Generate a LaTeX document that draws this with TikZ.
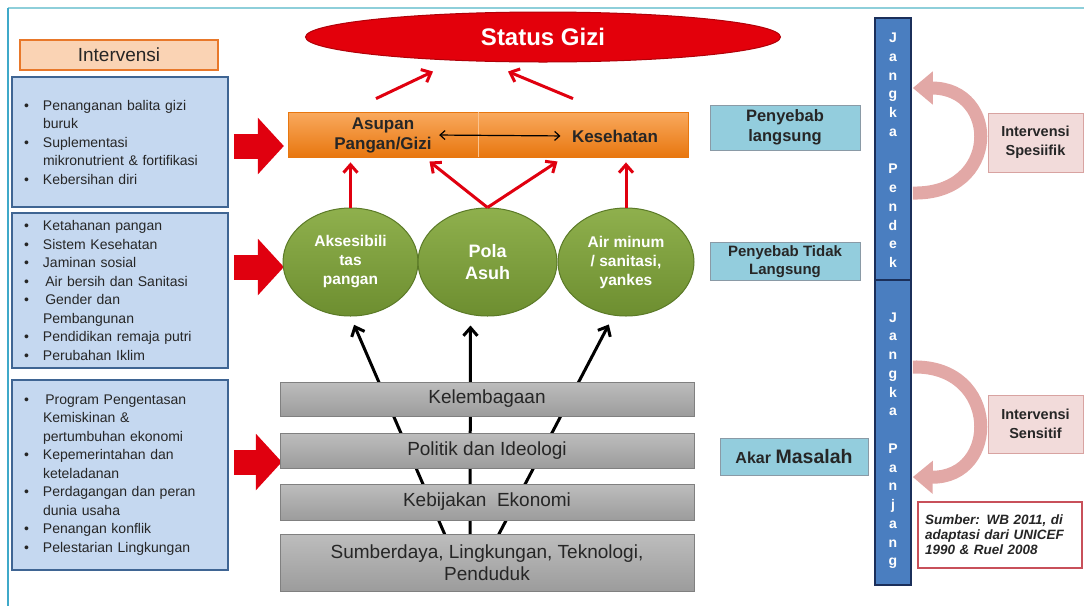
\documentclass[tikz,border=0pt]{standalone}
\usepackage{fontspec}
\setmainfont{Liberation Sans}
\usetikzlibrary{arrows.meta,shapes.geometric,backgrounds}

\definecolor{framecol}{HTML}{8ECFDA}
\definecolor{framel}{HTML}{3FA9C9}
\definecolor{listfill}{HTML}{C5D8F0}
\definecolor{listdraw}{HTML}{3F6593}
\definecolor{headfill}{HTML}{FAD3B4}
\definecolor{headdraw}{HTML}{E8782A}
\definecolor{arrred}{HTML}{E0000F}
\definecolor{gizired}{HTML}{E3000B}
\definecolor{gizidraw}{HTML}{B00008}
\definecolor{orangetop}{HTML}{F9A95E}
\definecolor{orangebot}{HTML}{E8770F}
\definecolor{greentop}{HTML}{8FB04D}
\definecolor{greenbot}{HTML}{6D8E30}
\definecolor{greendraw}{HTML}{5B7A27}
\definecolor{graytop}{HTML}{BDBDBD}
\definecolor{graybot}{HTML}{9C9C9C}
\definecolor{graydraw}{HTML}{808080}
\definecolor{cyanfill}{HTML}{93CDDD}
\definecolor{cyandraw}{HTML}{8A9AA6}
\definecolor{jangkafill}{HTML}{4A7EC0}
\definecolor{jangkadraw}{HTML}{1B2F5A}
\definecolor{pinkfill}{HTML}{F2DBDA}
\definecolor{pinkdraw}{HTML}{D8A3A1}
\definecolor{pinkarr}{HTML}{E2A8A6}
\definecolor{sumberdraw}{HTML}{C8505A}

\newcommand{\itm}{\makebox[19pt][l]{\textbullet}}
\newcommand{\ind}{\hspace*{19pt}}

\begin{document}
\begin{tikzpicture}[x=1pt,y=-1pt,
	listbox/.style={draw=listdraw, line width=1.8pt, fill=listfill, minimum width=216pt, text width=192pt, inner xsep=12pt, align=left, text=black!85, font=\fontsize{14}{18.5}\selectfont},
	graybar/.style={draw=graydraw, line width=0.8pt, top color=graytop, bottom color=graybot, minimum width=414pt, align=center, text=black!85, font=\fontsize{19}{22}\selectfont},
	greenell/.style={ellipse, draw=greendraw, line width=1pt, top color=greentop, bottom color=greenbot, minimum height=108pt, inner sep=0pt, align=center, text=white, font=\bfseries\fontsize{15.5}{19}\selectfont},
	cyanbox/.style={draw=cyandraw, line width=1pt, fill=cyanfill, minimum width=150pt, align=center, text=black!85, font=\bfseries\fontsize{16.5}{20}\selectfont},
	pinkbox/.style={draw=pinkdraw, line width=1pt, fill=pinkfill, minimum width=95pt, align=center, text=black!85, font=\bfseries\fontsize{14.5}{19}\selectfont},
	jangka/.style={draw=jangkadraw, line width=1.6pt, fill=jangkafill, minimum width=36pt, align=center, text=white, font=\bfseries\fontsize{14}{18.75}\selectfont},
	blockarrow/.style={arrred, line width=25pt, -{Triangle[length=26pt,width=55pt]}},
	redarrow/.style={arrred, line width=3pt, -{Straight Barb[length=8pt,width=14pt]}},
	blackarrow/.style={black, line width=3pt, -{Straight Barb[length=8pt,width=14pt]}, shorten >=9pt},
	curvearrow/.style={pinkarr, line width=13pt, -{Triangle[length=20pt,width=32pt]}}]
	
	\useasboundingbox (0,0) rectangle (1084,606);
	\draw[framecol, line width=1.5pt] (8,8) -- (1084,8);
	\draw[framel, line width=2pt] (8,8) -- (8,606);
	
	% intervensi
	\node[draw=headdraw, line width=1.8pt, fill=headfill, minimum width=198pt, minimum height=30pt, text=black!85, font=\fontsize{19}{19}\selectfont] (interv) at (119,55) {Intervensi};
	\node[listbox, minimum height=130pt] (lst1) at (120,142) {\itm Penanganan balita gizi\\\ind buruk\\\itm Suplementasi\\\ind mikronutrient \& fortifikasi\\\itm Kebersihan diri};
	\node[listbox, minimum height=155pt] (lst2) at (120,290.5) {\itm Ketahanan pangan\\\itm Sistem Kesehatan\\\itm Jaminan sosial\\\itm\,Air bersih dan Sanitasi\\\itm\,Gender dan\\\ind Pembangunan\\\itm Pendidikan remaja putri\\\itm Perubahan Iklim};
	\node[listbox, minimum height=190pt] (lst3) at (120,475) {\itm\,Program Pengentasan\\\ind Kemiskinan \&\\\ind pertumbuhan ekonomi\\\itm Kepemerintahan dan\\\ind keteladanan\\\itm Perdagangan dan peran\\\ind dunia usaha\\\itm Penangan konflik\\\itm Pelestarian Lingkungan};
	\draw[blockarrow] ([shift={(5,4)}]lst1.east) -- ++(50,0);
	\draw[blockarrow] ([shift={(5,-23.5)}]lst2.east) -- ++(50,0);
	\draw[blockarrow] ([shift={(5,-13)}]lst3.east) -- ++(48,0);
	
	% penyebab langsung
	\node[ellipse, draw=gizidraw, line width=1pt, fill=gizired, minimum width=475pt, minimum height=50pt, text=white, font=\bfseries\fontsize{24}{24}\selectfont] (gizi) at (543,37) {Status Gizi};
	\node[draw=orangebot, line width=0.8pt, top color=orangetop, bottom color=orangebot, minimum width=400pt, minimum height=45pt] (bar) at (488,134.5) {};
	\draw[orangetop!70!white, line width=0.8pt] ([xshift=-10pt]bar.north) -- ([xshift=-10pt]bar.south);
	\node[align=center, text=black!85, font=\bfseries\fontsize{17}{20}\selectfont] (asupan) at (383,135) {Asupan\\Pangan/Gizi};
	\node[text=black!85, font=\bfseries\fontsize{17}{20}\selectfont] (kes) at (615,136) {Kesehatan};
	\draw[black, line width=1.2pt, {Straight Barb[length=5pt,width=9pt]}-{Straight Barb[length=5pt,width=9pt]}, shorten <=4pt, shorten >=8pt] (asupan.east) -- (kes.west);
	\draw[redarrow] ([shift={(-112,-13)}]bar.north) -- ([shift={(-110,9)}]gizi.south);
	\draw[redarrow] ([shift={(85,-13)}]bar.north) -- ([shift={(-35,9)}]gizi.south);
	
	% penyebab tidak langsung
	\node[greenell, minimum width=135pt] (ak) at (350.5,262) {Aksesibili\\tas\\pangan};
	\node[greenell, minimum width=139pt, font=\bfseries\fontsize{18}{22}\selectfont] (pola) at (487.5,262) {Pola\\Asuh};
	\node[greenell, minimum width=136pt] (air) at (626,262) {Air minum\\/ sanitasi,\\yankes};
	\draw[redarrow, shorten >=5pt] (ak.north) -- (ak.north |- bar.south);
	\draw[redarrow, shorten >=5pt] (air.north) -- (air.north |- bar.south);
	\draw[redarrow] (pola.north) -- ([shift={(-58,-46)}]pola.north);
	\draw[redarrow] (pola.north) -- ([shift={(70,-46)}]pola.north);
	
	% akar masalah
	\node[graybar, minimum height=34pt] (kel) at (487,399) {Kelembagaan};
	\node[graybar, minimum height=35pt] (pol) at (487,450.5) {Politik dan Ideologi};
	\node[graybar, minimum height=36pt] (keb) at (487,502) {Kebijakan\ \ Ekonomi};
	\node[graybar, minimum height=57pt] (sdl) at (487,562.5) {Sumberdaya, Lingkungan, Teknologi,\\Penduduk};
	\begin{scope}[on background layer]
		\draw[blackarrow] ([shift={(-40,6)}]sdl.north) -- (ak.south);
		\draw[blackarrow] ([shift={(-17,6)}]sdl.north) -- ([shift={(-17,0)}]pola.south);
		\draw[blackarrow] ([shift={(9,6)}]sdl.north) -- ([shift={(-13,0)}]air.south);
	\end{scope}
	
	\node[cyanbox, minimum height=45pt] (lang) at (785,127.5) {Penyebab\\langsung};
	\node[cyanbox, minimum height=37pt, font=\bfseries\fontsize{15}{18}\selectfont] (tdk) at (785,261.5) {Penyebab Tidak\\Langsung};
	\node[cyanbox, minimum width=148pt, minimum height=37pt] (akar) at (794,456.5) {{\fontsize{16}{19}\selectfont Akar} {\fontsize{19.5}{19}\selectfont Masalah}};
	
	% jangka
	\node[jangka, minimum height=262pt] (jp) at (893,149) {\rule{0pt}{12pt}J\\a\\n\\g\\k\\a\\[18.75pt]P\\e\\n\\d\\e\\k};
	\node[jangka, minimum height=305pt] (jl) at (893,432.5) {\rule{0pt}{26pt}J\\a\\n\\g\\k\\a\\[18.75pt]P\\a\\n\\j\\a\\n\\g};
	\coordinate (sp1) at ([shift={(1,44)}]jp.east);
	\coordinate (sp2) at ([shift={(1,-61)}]jp.east);
	\coordinate (sl1) at ([shift={(1,-65.5)}]jl.east);
	\coordinate (sl2) at ([shift={(1,44.5)}]jl.east);
	\draw[curvearrow] (sp1) .. controls (1000,195) and (1000,88) .. (sp2);
	\draw[curvearrow] (sl1) .. controls (1000,365) and (1000,478) .. (sl2);
	\node[pinkbox, minimum height=59pt] (spes) at (1035.5,142.5) {Intervensi\\Spesiifik};
	\node[pinkbox, minimum height=58pt] (sens) at (1035.5,424) {Intervensi\\Sensitif};
	\node[draw=sumberdraw, line width=1.2pt, fill=white, minimum width=164pt, minimum height=66pt, text width=150pt, inner xsep=7pt, align=left, text=black!85, font=\bfseries\itshape\fontsize{13.5}{15}\selectfont] (src) at (1000,535) {Sumber: WB 2011, di\\adaptasi dari UNICEF\\1990 \& Ruel 2008};
\end{tikzpicture}
\end{document}
